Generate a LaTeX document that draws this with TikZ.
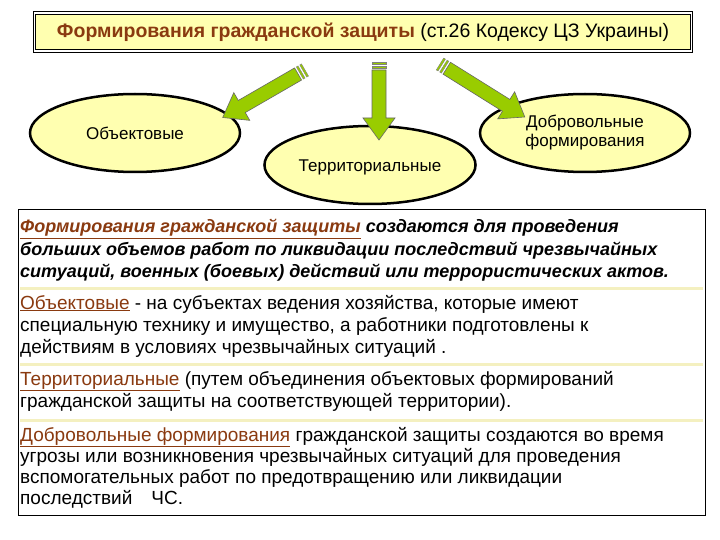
\documentclass[tikz,border=0pt]{standalone}
\usepackage{fontspec}
\setmainfont{Liberation Sans}
\usetikzlibrary{shapes.geometric,shapes.arrows}
\definecolor{brn}{HTML}{8A3A10}
\definecolor{ylw}{HTML}{FFFFB0}
\definecolor{grn}{HTML}{99CC00}
\definecolor{sep}{HTML}{F4F0C0}
\tikzset{
 ov/.style={ellipse,draw=black,line width=2.5pt,fill=ylw,minimum width=210pt,minimum height=78pt,align=center,font=\fontsize{17}{19}\selectfont},
 ln/.style={anchor=base west,inner sep=0pt,font=\fontsize{19}{21}\selectfont},
 lb/.style={anchor=base west,inner sep=0pt,font=\fontsize{18}{20}\selectfont\bfseries\itshape},
 garrow/.style={draw=black!60,fill=grn,line width=0.6pt},
}
\newcommand{\term}[1]{\textcolor{brn}{\underline{#1}}}
\begin{document}
\begin{tikzpicture}[x=1pt,y=-1pt]
\useasboundingbox (0,0) rectangle (720,540);
\fill[white] (0,0) rectangle (720,540);
% header
\node[draw=black,line width=1pt,fill=ylw,minimum width=657pt,minimum height=38pt,double=white,double distance=1.5pt] (hdr) at (363,32) {\fontsize{19.5}{21}\selectfont\textcolor{brn}{\textbf{Формирования гражданской защиты}} (ст.26 Кодексу ЦЗ Украины)};
% ellipses
\node[ov] (obj) at (135,133) {Объектовые};
\node[ov] (ter) at (370,165) {\\[-2pt]Территориальные};
\node[ov] (dob) at (585,133) {Добровольные\\формирования};
% arrows
\foreach \a/\x/\y/\l in {-150/305/70/95, -90/379/62/78, -32/440/64/100}{
 \begin{scope}[shift={(\x,\y)},rotate=\a]
 \fill[grn,draw=black!50] (0,-7) rectangle (2,7);
 \fill[grn,draw=black!50] (4,-7) rectangle (6,7);
 \filldraw[garrow] (8,-7) -- (\l-22,-7) -- (\l-22,-16) -- (\l,0) -- (\l-22,16) -- (\l-22,7) -- (8,7) -- cycle;
 \end{scope}}
% text box
\node[draw=black,line width=0.8pt,minimum width=687pt,minimum height=306pt] (tb) at (361.5,362) {};
\draw[sep,line width=3pt] (20,288) -- (703,288);
\draw[sep,line width=3pt] (20,364) -- (703,364);
\draw[sep,line width=3pt] (20,420) -- (703,420);
\node[lb] at (20,233) {\term{Формирования гражданской защиты} создаются для проведения};
\node[lb] at (20,255) {больших объемов работ по ликвидации последствий чрезвычайных};
\node[lb] at (20,277) {ситуаций, военных (боевых) действий или террористических актов.};
\begin{scope}[every node/.style={ln}]
\node at (20,309) {\term{Объектовые} - на субъектах ведения хозяйства, которые имеют};
\node at (20,331) {специальную технику и имущество, а работники подготовлены к};
\node at (20,353) {действиям в условиях чрезвычайных ситуаций .};
\node at (20,385) {\term{Территориальные} (путем объединения объектовых формирований};
\node at (20,407) {гражданской защиты на соответствующей территории).};
\node at (20,441) {\term{Добровольные формирования} гражданской защиты создаются во время};
\node at (20,462) {угрозы или возникновения чрезвычайных ситуаций для проведения};
\node at (20,483) {вспомогательных работ по предотвращению или ликвидации};
\node at (20,504) {последствий\quad ЧС.};
\end{scope}
\end{tikzpicture}
\end{document}
